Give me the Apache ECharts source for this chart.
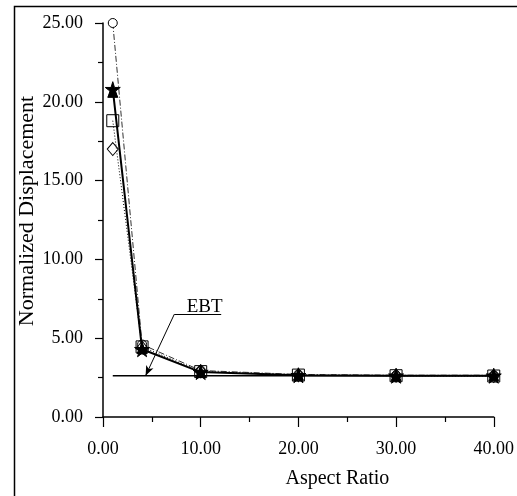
<!DOCTYPE html>
<html>
<head>
<meta charset="utf-8">
<script src="https://cdn.jsdelivr.net/npm/echarts@6/dist/echarts.min.js"></script>
<style>
html,body{margin:0;padding:0;background:#fff;}
#c{width:517px;height:496px;}
</style>
</head>
<body>
<div id="c"></div>
<script>
const xValues = [1, 4, 10, 20, 30, 40];
const circleVals = [25.0, 4.6, 2.95, 2.7, 2.65, 2.65];
const starVals = [20.8, 4.3, 2.85, 2.65, 2.62, 2.62];
const triangleVals = [20.6, 4.35, 2.85, 2.65, 2.62, 2.62];
const squareVals = [18.8, 4.45, 2.88, 2.66, 2.62, 2.6];
const diamondVals = [17.0, 4.4, 2.9, 2.65, 2.62, 2.6];
const ebtX = [1, 40];
const ebtY = [2.62, 2.62];
const ebtLabel = 'EBT';
const ebtLabelPos = [10.4, 6.95];
const ebtUnderline = [[7.3, 6.52], [12.1, 6.52]];
const ebtArrowTip = [4.36, 2.62];
const xTicks = [0, 10, 20, 30, 40];
const yTicks = [0, 5, 10, 15, 20, 25];
const xTitle = 'Aspect Ratio';
const yTitle = 'Normalized Displacement';

const pairs = v => xValues.map((x, i) => [x, v[i]]);
const font = 'Liberation Serif';

const chart = echarts.init(document.getElementById('c'), null, {renderer: 'canvas'});
chart.setOption({
  animation: false,
  backgroundColor: '#fff',
  grid: {left: 103, right: 22, top: 23, bottom: 79, containLabel: false},
  xAxis: {
    type: 'value', min: xTicks[0], max: xTicks[xTicks.length - 1], interval: 10,
    name: xTitle, nameLocation: 'middle', nameGap: 52,
    nameTextStyle: {fontFamily: font, fontSize: 20, color: '#000', padding: [0, 0, 0, 78]},
    axisLine: {show: true, onZero: false, lineStyle: {color: '#000', width: 1.5}},
    axisTick: {show: true, inside: false, length: 10, lineStyle: {color: '#000', width: 1.2}},
    minorTick: {show: true, splitNumber: 2, length: 5, lineStyle: {color: '#000', width: 1.2}},
    axisLabel: {fontFamily: font, fontSize: 18, color: '#000', margin: 23, formatter: v => v.toFixed(2)},
    splitLine: {show: false}
  },
  yAxis: {
    type: 'value', min: yTicks[0], max: yTicks[yTicks.length - 1], interval: 5,
    axisLine: {show: true, onZero: false, lineStyle: {color: '#000', width: 1.5}},
    axisTick: {show: true, inside: false, length: 8, lineStyle: {color: '#000', width: 1.2}},
    minorTick: {show: true, splitNumber: 2, length: 5, lineStyle: {color: '#000', width: 1.2}},
    axisLabel: {fontFamily: font, fontSize: 18, color: '#000', margin: 20, formatter: v => v.toFixed(2)},
    splitLine: {show: false}
  },
  graphic: [{
    type: 'rect', left: 12, top: 4, z: 100, silent: true,
    shape: {width: 600, height: 600},
    style: {fill: 'none', stroke: '#000', lineWidth: 1.5}
  }, {
    type: 'text', x: 27, y: 211, rotation: Math.PI / 2, silent: true,
    style: {text: yTitle, fontFamily: font, fontSize: 22, fill: '#000', align: 'center', verticalAlign: 'middle'}
  }],
  series: [
    {
      name: 'EBT', type: 'line', data: ebtX.map((x, i) => [x, ebtY[i]]),
      symbol: 'none', lineStyle: {color: '#000', width: 1.5}, z: 1,
      markLine: {
        silent: true, animation: false,
        lineStyle: {color: '#000', width: 1, type: 'solid'},
        label: {show: false},
        data: [
          [{coord: ebtUnderline[0], symbol: 'none'}, {coord: ebtUnderline[1], symbol: 'none'}],
          [{coord: ebtUnderline[0], symbol: 'none'}, {coord: ebtArrowTip, symbol: 'arrow', symbolSize: [6, 10]}]
        ]
      },
      markPoint: {
        silent: true, animation: false,
        symbol: 'circle', symbolSize: 0,
        data: [{coord: ebtLabelPos, value: ebtLabel}],
        label: {show: true, position: 'inside', formatter: ebtLabel, fontFamily: font, fontSize: 19, color: '#000'}
      }
    },
    {
      name: 'circle', type: 'line', data: pairs(circleVals),
      symbol: 'circle', symbolSize: 9,
      itemStyle: {color: '#fff', borderColor: '#000', borderWidth: 1},
      lineStyle: {color: '#333', width: 1, type: [6, 2, 1, 2]}, z: 3
    },
    {
      name: 'square', type: 'line', data: pairs(squareVals),
      symbol: 'rect', symbolSize: 12,
      itemStyle: {color: 'rgba(255,255,255,0)', borderColor: '#000', borderWidth: 1},
      lineStyle: {color: '#000', width: 1, type: [1, 2]}, z: 4
    },
    {
      name: 'diamond', type: 'line', data: pairs(diamondVals),
      symbol: 'diamond', symbolSize: [11, 13],
      itemStyle: {color: 'rgba(255,255,255,0)', borderColor: '#000', borderWidth: 1},
      lineStyle: {color: '#000', width: 0}, z: 4
    },
    {
      name: 'triangle', type: 'line', data: pairs(triangleVals),
      symbol: 'triangle', symbolSize: 10,
      itemStyle: {color: '#000', borderColor: '#000', borderWidth: 1},
      lineStyle: {color: '#000', width: 0}, z: 5
    },
    {
      name: 'star', type: 'line', data: pairs(starVals),
      symbol: 'path://M50,0 L61,35 L98,35 L68,57 L79,91 L50,70 L21,91 L32,57 L2,35 L39,35 Z',
      symbolSize: 15,
      itemStyle: {color: '#000', borderColor: '#000', borderWidth: 1},
      lineStyle: {color: '#000', width: 2}, z: 6
    }
  ]
});
</script>
</body>
</html>
